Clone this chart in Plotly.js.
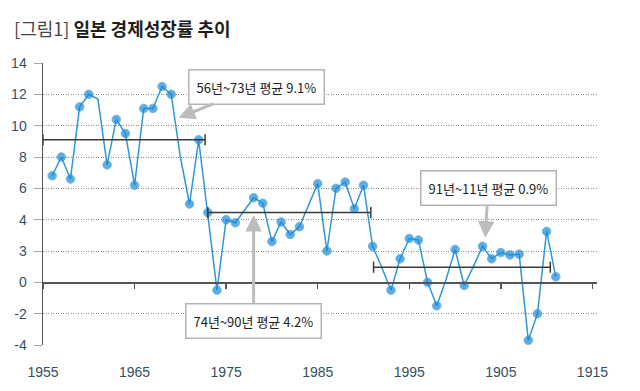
<!DOCTYPE html>
<html>
<head>
<meta charset="utf-8">
<script src="https://cdn.plot.ly/plotly-3.0.1.min.js"></script>
<style>html,body{margin:0;padding:0;background:#fff;}#chart{width:640px;height:391px;}</style>
</head>
<body>
<div id="chart"></div>
<script>
// ---- data ----
const years = [1956,1957,1958,1959,1960,1961,1962,1963,1964,1965,1966,1967,1968,1969,1970,
  1971,1972,1973,1974,1975,1976,1977,1978,1979,1980,1981,1982,1983,1984,1985,1986,1987,1988,1989,1990,
  1991,1992,1993,1994,1995,1996,1997,1998,1999,2000,2001,2002,2003,2004,2005,2006,2007,2008,2009,2010,2011];
const growth = [6.8,8.0,6.6,11.2,12.0,11.7,7.5,10.4,9.5,6.2,11.1,11.1,12.5,12.0,8.0,
  5.0,9.1,4.45,-0.5,4.0,3.8,4.6,5.4,5.05,2.6,3.85,3.05,3.55,4.9,6.3,2.0,6.0,6.4,4.7,6.2,
  2.3,0.95,-0.5,1.5,2.8,2.7,0.0,-1.5,0.15,2.1,-0.2,1.0,2.3,1.5,1.9,1.75,1.8,-3.7,-2.0,3.25,0.35];
const yearsWithoutDot = [1961,1970,1977,1984,1992,1999,2002];

const periodStart = [1955, 1973, 1991.1];
const periodEnd   = [1972.7, 1990.8, 2010.4];
const periodMean  = [9.1, 4.45, 0.97];
const periodLabels = ['56년~73년 평균 9.1%', '74년~90년 평균 4.2%', '91년~11년 평균 0.9%'];

const xTickVals = [1955,1965,1975,1985,1995,2005,2015];
const xTickText = ['1955','1965','1975','1985','1995','1905','1915'];
const yTickVals = [14,12,10,8,6,4,2,0,-2,-4];
const yTickText = ['14','12','10','8','6','4','3','0','-2','-4'];

const titleText = "<span style='font-weight:normal;color:#444'>[그림1]</span> <b>일본 경제성장률 추이</b>";

// ---- traces ----
const traces = [];
periodStart.forEach((s, i) => {
  traces.push({
    x: [s, periodEnd[i]], y: [periodMean[i], periodMean[i]],
    xaxis: 'x2', yaxis: 'y',
    mode: 'lines+markers', type: 'scatter', cliponaxis: false,
    line: {color: '#3a3a3a', width: 1.5},
    marker: {symbol: 'line-ns', size: 8, line: {color: '#3a3a3a', width: 1.5}},
    hoverinfo: 'skip', showlegend: false
  });
});
traces.push({
  x: years, y: growth, type: 'scatter', mode: 'lines+markers', cliponaxis: false,
  line: {color: '#2f97d8', width: 1.5},
  marker: {color: '#1a8bd6', size: years.map(y => yearsWithoutDot.includes(y) ? 0 : 8.5)},
  showlegend: false
});

// ---- annotations (box center -> arrow tip) ----
const boxX = [1978.3, 1978.0, 2003.6];
const boxY = [12.5, -2.45, 6.05];
const tipX = [1969.8, 1978.0, 2003.3];
const tipY = [10.5, 4.3, 2.85];
const annotations = periodLabels.map((t, i) => ({
  text: t, x: tipX[i], y: tipY[i], xref: 'x', yref: 'y',
  ax: boxX[i], ay: boxY[i], axref: 'x', ayref: 'y',
  showarrow: true, arrowhead: 2, arrowsize: 1.1, arrowwidth: 3, arrowcolor: '#bcbcbc',
  bgcolor: '#ffffff', bordercolor: '#b4b4b4', borderwidth: 1.5, borderpad: 7,
  font: {family: 'Liberation Sans Narrow, Noto Sans CJK KR, sans-serif', size: 13, color: '#222'}
}));

const tickFont = {family: 'Liberation Sans Narrow, Arial Narrow, sans-serif', size: 14, color: '#34505f'};

const layout = {
  width: 640, height: 391,
  margin: {l: 43, r: 43, t: 63, b: 46},
  paper_bgcolor: '#fff', plot_bgcolor: '#fff',
  title: {
    text: titleText, x: 0.022, xanchor: 'left', xref: 'container',
    y: 0.925, yanchor: 'middle', yref: 'container',
    font: {family: 'Noto Sans CJK KR, sans-serif', size: 18, color: '#1e1e1e'}
  },
  xaxis: {
    range: [1955, 2015.5], tickvals: xTickVals, ticktext: xTickText,
    showgrid: false, zeroline: false, showline: false, ticks: '',
    tickfont: tickFont, ticklabelstandoff: 17
  },
  xaxis2: {
    range: [1955, 2015.5], overlaying: 'x', anchor: 'free', position: 4/18, side: 'bottom',
    showgrid: false, zeroline: false, showline: true, linecolor: '#555', linewidth: 1.5,
    ticks: 'outside', ticklen: 5, tickwidth: 1.5, tickcolor: '#555',
    tickvals: xTickVals, showticklabels: false
  },
  yaxis: {
    range: [-4, 14], tickvals: yTickVals, ticktext: yTickText,
    showgrid: true, gridcolor: '#8f8f8f', griddash: '1px,1.5px', gridwidth: 1,
    zeroline: false, showline: true, linecolor: '#555', linewidth: 1.5,
    ticks: 'outside', ticklen: 8, tickcolor: '#a8a8a8', tickwidth: 1,
    tickfont: tickFont, ticklabelstandoff: 4
  },
  annotations: annotations
};

Plotly.newPlot('chart', traces, layout, {staticPlot: true, displayModeBar: false});
</script>
</body>
</html>
